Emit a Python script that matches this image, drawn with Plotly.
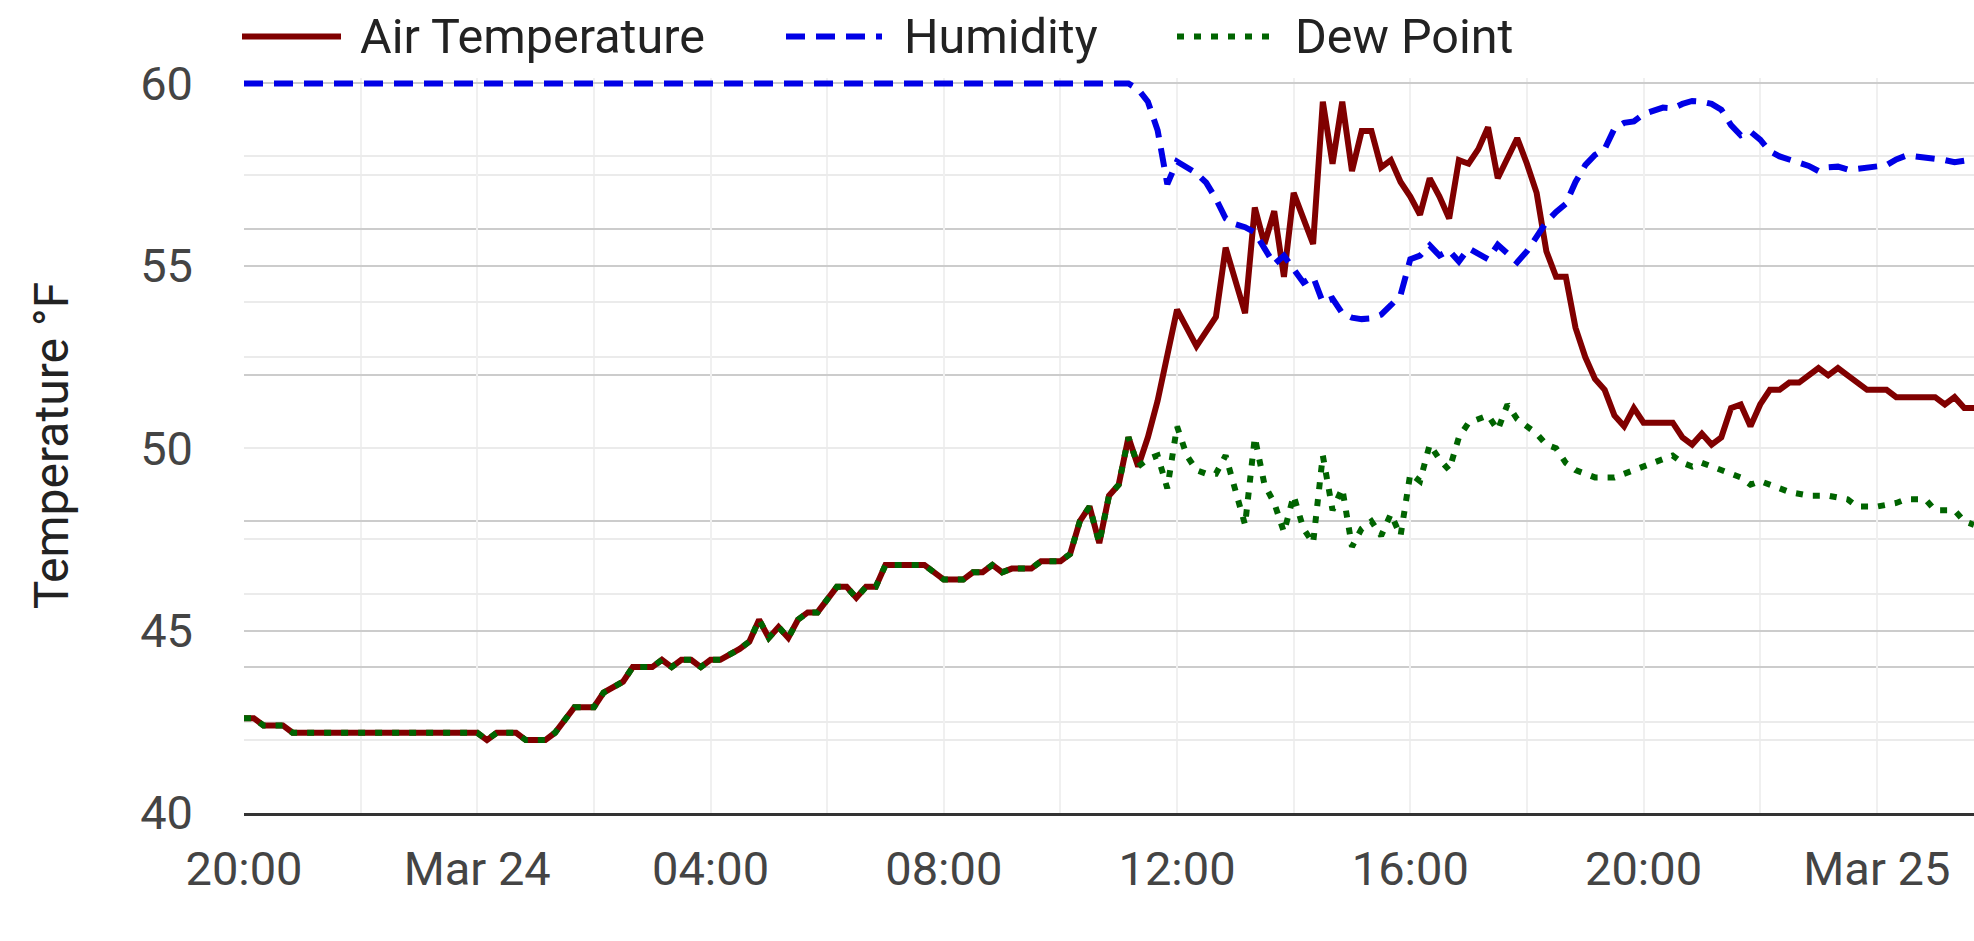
import plotly.graph_objects as go

# ---- data (10-minute station readings, turning points only) ----
temp_times = [
    "2024-03-23 20:00", "2024-03-23 20:10", "2024-03-23 20:20", "2024-03-23 20:40", "2024-03-23 20:50",
    "2024-03-24 00:00", "2024-03-24 00:10", "2024-03-24 00:20", "2024-03-24 00:40", "2024-03-24 00:50",
    "2024-03-24 01:10", "2024-03-24 01:20", "2024-03-24 01:40", "2024-03-24 02:00", "2024-03-24 02:10",
    "2024-03-24 02:30", "2024-03-24 02:40", "2024-03-24 03:00", "2024-03-24 03:10", "2024-03-24 03:20",
    "2024-03-24 03:30", "2024-03-24 03:40", "2024-03-24 03:50", "2024-03-24 04:00", "2024-03-24 04:10",
    "2024-03-24 04:30", "2024-03-24 04:40", "2024-03-24 04:50", "2024-03-24 05:00", "2024-03-24 05:10",
    "2024-03-24 05:20", "2024-03-24 05:30", "2024-03-24 05:40", "2024-03-24 05:50", "2024-03-24 06:10",
    "2024-03-24 06:20", "2024-03-24 06:30", "2024-03-24 06:40", "2024-03-24 06:50", "2024-03-24 07:00",
    "2024-03-24 07:40", "2024-03-24 08:00", "2024-03-24 08:20", "2024-03-24 08:30", "2024-03-24 08:40",
    "2024-03-24 08:50", "2024-03-24 09:00", "2024-03-24 09:10", "2024-03-24 09:30", "2024-03-24 09:40",
    "2024-03-24 10:00", "2024-03-24 10:10", "2024-03-24 10:20", "2024-03-24 10:30", "2024-03-24 10:40",
    "2024-03-24 10:50", "2024-03-24 11:00", "2024-03-24 11:10", "2024-03-24 11:20",
    "2024-03-24 11:30", "2024-03-24 11:40", "2024-03-24 11:50", "2024-03-24 12:00", "2024-03-24 12:20",
    "2024-03-24 12:40", "2024-03-24 12:50", "2024-03-24 13:10", "2024-03-24 13:20", "2024-03-24 13:30",
    "2024-03-24 13:40", "2024-03-24 13:50", "2024-03-24 14:00", "2024-03-24 14:20", "2024-03-24 14:30",
    "2024-03-24 14:40", "2024-03-24 14:50", "2024-03-24 15:00", "2024-03-24 15:10", "2024-03-24 15:20",
    "2024-03-24 15:30", "2024-03-24 15:40", "2024-03-24 15:50", "2024-03-24 16:00", "2024-03-24 16:10",
    "2024-03-24 16:20", "2024-03-24 16:30", "2024-03-24 16:40", "2024-03-24 16:50", "2024-03-24 17:00",
    "2024-03-24 17:10", "2024-03-24 17:20", "2024-03-24 17:30", "2024-03-24 17:50", "2024-03-24 18:00",
    "2024-03-24 18:10", "2024-03-24 18:20", "2024-03-24 18:30", "2024-03-24 18:40", "2024-03-24 18:50",
    "2024-03-24 19:00", "2024-03-24 19:10", "2024-03-24 19:20", "2024-03-24 19:30", "2024-03-24 19:40",
    "2024-03-24 19:50", "2024-03-24 20:00", "2024-03-24 20:30", "2024-03-24 20:40", "2024-03-24 20:50",
    "2024-03-24 21:00", "2024-03-24 21:10", "2024-03-24 21:20", "2024-03-24 21:30", "2024-03-24 21:40",
    "2024-03-24 21:50", "2024-03-24 22:00", "2024-03-24 22:10", "2024-03-24 22:20", "2024-03-24 22:30",
    "2024-03-24 22:40", "2024-03-24 22:50", "2024-03-24 23:00", "2024-03-24 23:10", "2024-03-24 23:20",
    "2024-03-24 23:30", "2024-03-24 23:40", "2024-03-24 23:50", "2024-03-25 00:10", "2024-03-25 00:20",
    "2024-03-25 01:00", "2024-03-25 01:10", "2024-03-25 01:20", "2024-03-25 01:30", "2024-03-25 01:40",
]
temp_f = [
    42.6, 42.6, 42.4, 42.4, 42.2,
    42.2, 42.0, 42.2, 42.2, 42.0,
    42.0, 42.2, 42.9, 42.9, 43.3,
    43.6, 44.0, 44.0, 44.2, 44.0,
    44.2, 44.2, 44.0, 44.2, 44.2,
    44.5, 44.7, 45.3, 44.8, 45.1,
    44.8, 45.3, 45.5, 45.5, 46.2,
    46.2, 45.9, 46.2, 46.2, 46.8,
    46.8, 46.4, 46.4, 46.6, 46.6,
    46.8, 46.6, 46.7, 46.7, 46.9,
    46.9, 47.1, 48.0, 48.4, 47.4,
    48.7, 49.0, 50.3, 49.5,
    50.3, 51.3, 52.6, 53.8, 52.8,
    53.6, 55.5, 53.7, 56.6, 55.6,
    56.5, 54.7, 57.0, 55.6, 59.5,
    57.8, 59.5, 57.6, 58.7, 58.7,
    57.7, 57.9, 57.3, 56.9, 56.4,
    57.4, 56.9, 56.3, 57.9, 57.8,
    58.2, 58.8, 57.4, 58.5, 57.8,
    57.0, 55.4, 54.7, 54.7, 53.3,
    52.5, 51.9, 51.6, 50.9, 50.6,
    51.1, 50.7, 50.7, 50.3, 50.1,
    50.4, 50.1, 50.3, 51.1, 51.2,
    50.6, 51.2, 51.6, 51.6, 51.8,
    51.8, 52.0, 52.2, 52.0, 52.2,
    52.0, 51.8, 51.6, 51.6, 51.4,
    51.4, 51.2, 51.4, 51.1, 51.1,
]

# dew point sits on the air temperature (100 % humidity) until 11:20 on Mar 24
n_saturated = 59
dew_times = temp_times[:n_saturated] + [
    "2024-03-24 11:30", "2024-03-24 11:40", "2024-03-24 11:50", "2024-03-24 12:00", "2024-03-24 12:10",
    "2024-03-24 12:20", "2024-03-24 12:30", "2024-03-24 12:40", "2024-03-24 12:50", "2024-03-24 13:10",
    "2024-03-24 13:20", "2024-03-24 13:30", "2024-03-24 13:40", "2024-03-24 13:50", "2024-03-24 14:00",
    "2024-03-24 14:10", "2024-03-24 14:20", "2024-03-24 14:30", "2024-03-24 14:40", "2024-03-24 14:50",
    "2024-03-24 15:00", "2024-03-24 15:10", "2024-03-24 15:20", "2024-03-24 15:30", "2024-03-24 15:40",
    "2024-03-24 15:50", "2024-03-24 16:00", "2024-03-24 16:10", "2024-03-24 16:20", "2024-03-24 16:30",
    "2024-03-24 16:40", "2024-03-24 16:50", "2024-03-24 17:00", "2024-03-24 17:20", "2024-03-24 17:30",
    "2024-03-24 17:40", "2024-03-24 17:50", "2024-03-24 18:00", "2024-03-24 18:10", "2024-03-24 18:20",
    "2024-03-24 18:30", "2024-03-24 18:40", "2024-03-24 18:50", "2024-03-24 19:00", "2024-03-24 19:10",
    "2024-03-24 19:30", "2024-03-24 19:40", "2024-03-24 19:50", "2024-03-24 20:00", "2024-03-24 20:20",
    "2024-03-24 20:30", "2024-03-24 20:40", "2024-03-24 20:50", "2024-03-24 21:00", "2024-03-24 21:20",
    "2024-03-24 21:30", "2024-03-24 21:40", "2024-03-24 21:50", "2024-03-24 22:00", "2024-03-24 22:20",
    "2024-03-24 22:30", "2024-03-24 22:50", "2024-03-24 23:10", "2024-03-24 23:30", "2024-03-24 23:40",
    "2024-03-25 00:00", "2024-03-25 00:20", "2024-03-25 00:30", "2024-03-25 00:50", "2024-03-25 01:00",
    "2024-03-25 01:20", "2024-03-25 01:30", "2024-03-25 01:40",
]
dew_f = temp_f[:n_saturated] + [
    49.7, 49.8, 48.9, 50.6, 49.8,
    49.4, 49.3, 49.3, 49.8, 47.9,
    50.3, 49.0, 48.5, 47.7, 48.7,
    47.8, 47.4, 49.8, 48.3, 48.9,
    47.3, 47.8, 48.0, 47.6, 48.2,
    47.6, 49.3, 49.1, 50.1, 49.7,
    49.4, 50.3, 50.7, 50.9, 50.5,
    51.2, 50.8, 50.6, 50.4, 50.1,
    50.0, 49.6, 49.4, 49.3, 49.2,
    49.2, 49.3, 49.4, 49.5, 49.7,
    49.8, 49.6, 49.5, 49.6, 49.4,
    49.3, 49.2, 49.0, 49.1, 48.9,
    48.8, 48.7, 48.7, 48.6, 48.4,
    48.4, 48.5, 48.6, 48.6, 48.3,
    48.3, 48.0, 47.9,
]

hum_times = [
    "2024-03-23 20:00", "2024-03-24 11:10", "2024-03-24 11:20", "2024-03-24 11:30", "2024-03-24 11:40",
    "2024-03-24 11:50", "2024-03-24 12:00", "2024-03-24 12:10", "2024-03-24 12:20", "2024-03-24 12:30",
    "2024-03-24 12:40", "2024-03-24 12:50", "2024-03-24 13:00", "2024-03-24 13:10", "2024-03-24 13:20",
    "2024-03-24 13:30", "2024-03-24 13:40", "2024-03-24 13:50", "2024-03-24 14:00", "2024-03-24 14:10",
    "2024-03-24 14:20", "2024-03-24 14:30", "2024-03-24 14:40", "2024-03-24 14:50", "2024-03-24 15:00",
    "2024-03-24 15:10", "2024-03-24 15:20", "2024-03-24 15:30", "2024-03-24 15:40", "2024-03-24 15:50",
    "2024-03-24 16:00", "2024-03-24 16:10", "2024-03-24 16:20", "2024-03-24 16:30", "2024-03-24 16:40",
    "2024-03-24 16:50", "2024-03-24 17:00", "2024-03-24 17:20", "2024-03-24 17:30", "2024-03-24 17:50",
    "2024-03-24 18:00", "2024-03-24 18:10", "2024-03-24 18:20", "2024-03-24 18:30", "2024-03-24 18:40",
    "2024-03-24 18:50", "2024-03-24 19:00", "2024-03-24 19:10", "2024-03-24 19:20", "2024-03-24 19:30",
    "2024-03-24 19:40", "2024-03-24 19:50", "2024-03-24 20:00", "2024-03-24 20:20", "2024-03-24 20:30",
    "2024-03-24 20:40", "2024-03-24 20:50", "2024-03-24 21:00", "2024-03-24 21:10", "2024-03-24 21:20",
    "2024-03-24 21:30", "2024-03-24 21:40", "2024-03-24 21:50", "2024-03-24 22:00", "2024-03-24 22:10",
    "2024-03-24 22:20", "2024-03-24 22:30", "2024-03-24 22:40", "2024-03-24 22:50", "2024-03-24 23:00",
    "2024-03-24 23:10", "2024-03-24 23:20", "2024-03-24 23:30", "2024-03-24 23:40", "2024-03-24 23:50",
    "2024-03-25 00:00", "2024-03-25 00:10", "2024-03-25 00:20", "2024-03-25 00:30", "2024-03-25 00:40",
    "2024-03-25 00:50", "2024-03-25 01:00", "2024-03-25 01:10", "2024-03-25 01:20", "2024-03-25 01:30",
    "2024-03-25 01:40",
]
hum_pct = [
    100, 100, 99.2, 97.5, 93.6,
    86.2, 89.3, 88.6, 87.7, 86.4,
    84.2, 81.5, 80.7, 80.3, 79.6,
    77.4, 75.2, 76.4, 74.4, 72.7,
    73.5, 70.0, 70.5, 68.5, 67.9,
    67.7, 67.8, 68.3, 69.6, 71.0,
    75.9, 76.4, 77.8, 76.4, 77.1,
    75.6, 77.4, 75.9, 77.9, 75.5,
    77.0, 79.0, 81.0, 82.4, 83.5,
    86.5, 88.8, 90.2, 91.0, 93.8,
    94.6, 94.8, 95.8, 96.7, 96.6,
    97.2, 97.6, 97.5, 97.2, 96.4,
    94.3, 92.9, 93.4, 92.3, 90.7,
    90.0, 89.6, 89.3, 88.7, 88.0,
    88.5, 88.6, 88.2, 88.3, 88.4,
    88.5, 88.8, 89.6, 90.1, 90.0,
    89.9, 89.6, 89.5, 89.2, 89.4,
    88.9,
]

x_tick_times = [
    "2024-03-23 20:00", "2024-03-24 00:00", "2024-03-24 04:00", "2024-03-24 08:00",
    "2024-03-24 12:00", "2024-03-24 16:00", "2024-03-24 20:00", "2024-03-25 00:00",
]
x_tick_labels = ["20:00", "Mar 24", "04:00", "08:00", "12:00", "16:00", "20:00", "Mar 25"]
x_minor_times = [
    "2024-03-23 22:00", "2024-03-24 02:00", "2024-03-24 06:00", "2024-03-24 10:00",
    "2024-03-24 14:00", "2024-03-24 18:00", "2024-03-24 22:00",
]
temp_ticks = [40, 45, 50, 55, 60]
temp_minor = [42.5, 47.5, 52.5, 57.5]
hum_grid_major = [10, 30, 50, 70, 90]
hum_grid_minor = [0, 20, 40, 60, 80, 100]

series_names = ["Air Temperature", "Humidity", "Dew Point"]
series_colors = ["#800000", "#0000e6", "#006400"]
series_dash = ["solid", "19px,11px", "7px,10px"]
LINE_W = 6

# ---- geometry ----
W, H = 1974, 941
m_left, m_right, m_bottom = 244, 0, 128
t_lo, t_hi = 40, 60.15          # a little headroom so the 100 % humidity line is not clipped
px_per_deg = 36.5
plot_h = (t_hi - t_lo) * px_per_deg
m_top = H - m_bottom - plot_h
h_hi = 100 * (t_hi - t_lo) / 20  # humidity axis shares the pixel grid: 0..100 % == 40..60 F


def paper_x(px):
    return (px - m_left) / (W - m_left - m_right)


def paper_y(py):
    return (H - m_bottom - py) / plot_h


FONT = "Roboto"

fig = go.Figure()
fig.add_trace(go.Scatter(x=temp_times, y=temp_f, name=series_names[0], mode="lines",
                         line=dict(color=series_colors[0], width=LINE_W, dash=series_dash[0])))
fig.add_trace(go.Scatter(x=hum_times, y=hum_pct, name=series_names[1], mode="lines", yaxis="y2",
                         line=dict(color=series_colors[1], width=LINE_W, dash=series_dash[1])))
fig.add_trace(go.Scatter(x=dew_times, y=dew_f, name=series_names[2], mode="lines",
                         line=dict(color=series_colors[2], width=LINE_W, dash=series_dash[2])))

# hand-drawn legend (long line samples like the original)
legend_rows = [(242, 341, 358), (786, 882, 902), (1177, 1273, 1293)]
leg_y = paper_y(36)
for (x0, x1, xt), name, color, dash in zip(legend_rows, series_names, series_colors, series_dash):
    fig.add_shape(type="line", xref="paper", yref="paper",
                  x0=paper_x(x0), x1=paper_x(x1), y0=leg_y, y1=leg_y,
                  line=dict(color=color, width=LINE_W, dash=dash))
    fig.add_annotation(text=name, xref="paper", yref="paper", x=paper_x(xt), y=leg_y,
                       xanchor="left", yanchor="middle", showarrow=False,
                       font=dict(family=FONT, size=48.5, color="#222222"))

fig.update_layout(
    width=W, height=H,
    margin=dict(l=m_left, r=m_right, t=m_top, b=m_bottom),
    paper_bgcolor="white", plot_bgcolor="white",
    showlegend=False,
    font=dict(family=FONT, size=47, color="#444444"),
    xaxis=dict(
        type="date",
        range=["2024-03-23 20:00", "2024-03-25 01:40"],
        tickmode="array", tickvals=x_tick_times, ticktext=x_tick_labels,
        ticks="", ticklabelstandoff=13,
        showgrid=True, gridcolor="#f0f0f0", gridwidth=2,
        minor=dict(tickmode="array", tickvals=x_minor_times, showgrid=True,
                   gridcolor="#f0f0f0", gridwidth=2),
        showline=True, linecolor="#333333", linewidth=3,
        zeroline=False,
    ),
    yaxis=dict(
        range=[t_lo, t_hi],
        tickmode="array", tickvals=temp_ticks,
        ticks="", ticklabelstandoff=50,
        showgrid=True, gridcolor="#cccccc", gridwidth=2,
        minor=dict(tickmode="array", tickvals=temp_minor, showgrid=True,
                   gridcolor="#ebebeb", gridwidth=2),
        showline=False, zeroline=False,
        title=dict(text="Temperature °F", standoff=56,
                   font=dict(family=FONT, size=48, color="#222222")),
    ),
    yaxis2=dict(
        range=[0, h_hi], overlaying="y", side="right",
        tickmode="array", tickvals=hum_grid_major, showticklabels=False, ticks="",
        showgrid=True, gridcolor="#ebebeb", gridwidth=2,
        minor=dict(tickmode="array", tickvals=hum_grid_minor, showgrid=True,
                   gridcolor="#cccccc", gridwidth=2),
        showline=False, zeroline=False,
    ),
)

# the page's default 8px body margin would push the chart off the window edge
fig.write_html("out.html", config={"displayModeBar": False},
               post_script="document.body.style.margin = '0';")
